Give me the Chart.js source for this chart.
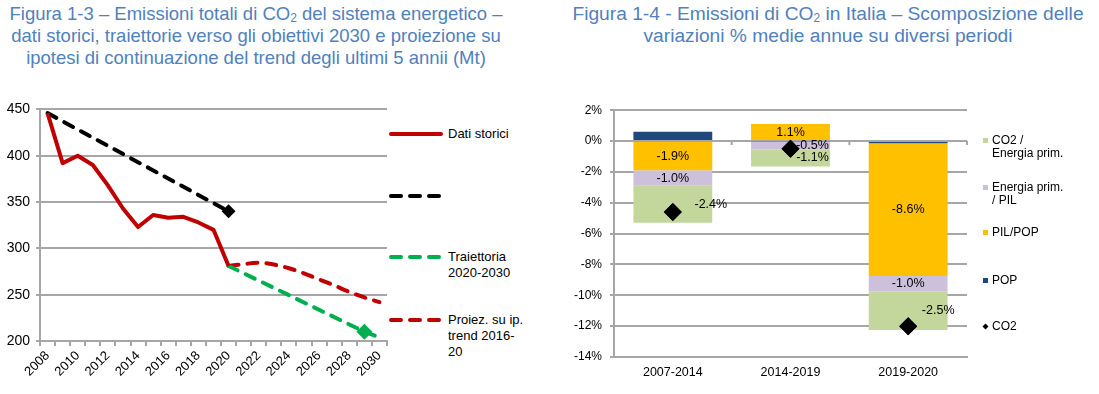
<!DOCTYPE html>
<html>
<head>
<meta charset="utf-8">
<script src="https://cdn.jsdelivr.net/npm/chart.js@4"></script>
<style>
  html, body { margin:0; padding:0; background:#fff; }
  body { width:1099px; height:394px; position:relative; overflow:hidden; font-family:"Liberation Sans", Arial, sans-serif; }
  .title { position:absolute; color:#4f81bd; font-family:"Liberation Sans Narrow","Arial Narrow","Liberation Sans",Arial,sans-serif; line-height:22px; text-align:center; white-space:nowrap; }
  .title sub { font-size:12px; vertical-align:-2px; line-height:0; }
  canvas { position:absolute; }
  .lg { position:absolute; font-size:13px; line-height:16px; color:#000; white-space:nowrap; }
  .lg2 { position:absolute; font-size:12px; line-height:13px; color:#000; white-space:nowrap; }
  .sw { position:absolute; width:5px; height:5px; }
</style>
</head>
<body>
<div class="title" style="left:0px; width:512px; top:3px; font-size:18.5px;">Figura 1-3 – Emissioni totali di CO<sub>2</sub> del sistema energetico –<br>dati storici, traiettorie verso gli obiettivi 2030 e proiezione su<br>ipotesi di continuazione del trend degli ultimi 5 annii (Mt)</div>
<div class="title" style="left:568px; width:520px; top:3px; font-size:19.2px;">Figura 1-4 - Emissioni di CO<sub>2</sub> in Italia – Scomposizione delle<br>variazioni % medie annue su diversi periodi</div>

<canvas id="c1" width="400" height="299" style="left:0px; top:95px;"></canvas>
<canvas id="c2" width="440" height="299" style="left:560px; top:95px;"></canvas>

<!-- legend left -->
<svg style="position:absolute; left:388px; top:120px;" width="60" height="210">
  <line x1="3" y1="14" x2="53" y2="14" stroke="#c00000" stroke-width="4" stroke-linecap="round"/>
  <line x1="3" y1="76" x2="53" y2="76" stroke="#000" stroke-width="4" stroke-linecap="round" stroke-dasharray="10 9"/>
  <line x1="3" y1="137" x2="53" y2="137" stroke="#00b050" stroke-width="4" stroke-linecap="round" stroke-dasharray="10 9"/>
  <line x1="3" y1="200" x2="53" y2="200" stroke="#c00000" stroke-width="4" stroke-linecap="round" stroke-dasharray="10 9"/>
</svg>
<div class="lg" style="left:448px; top:126px;">Dati storici</div>
<div class="lg" style="left:448px; top:249px;">Traiettoria<br>2020-2030</div>
<div class="lg" style="left:448px; top:312px;">Proiez. su ip.<br>trend 2016-<br>20</div>

<!-- legend right -->
<div class="sw" style="left:983px; top:138px; background:#c3d69b;"></div>
<div class="lg2" style="left:992px; top:134px;">CO2 /<br>Energia prim.</div>
<div class="sw" style="left:983px; top:185px; background:#ccc0da;"></div>
<div class="lg2" style="left:992px; top:181px;">Energia prim.<br>/ PIL</div>
<div class="sw" style="left:983px; top:230px; background:#ffc000;"></div>
<div class="lg2" style="left:992px; top:226px;">PIL/POP</div>
<div class="sw" style="left:983px; top:278px; background:#1f497d;"></div>
<div class="lg2" style="left:992px; top:274px;">POP</div>
<div class="sw" style="left:983px; top:324px; background:#000; transform:rotate(45deg) scale(0.85);"></div>
<div class="lg2" style="left:992px; top:320px;">CO2</div>

<script>
// ---------- Data: Figura 1-3 ----------
const years = ['2008','2009','2010','2011','2012','2013','2014','2015','2016','2017','2018','2019','2020',
               '2021','2022','2023','2024','2025','2026','2027','2028','2029','2030'];
const datiStorici = [446,392,400,390,368,343,323,336,333,334,328,320,281,
                     null,null,null,null,null,null,null,null,null,null];
const obiettivo2020 = [446,null,null,null,null,null,null,null,null,null,null,null,340,
                       null,null,null,null,null,null,null,null,null,null];
const traiettoria = [null,null,null,null,null,null,null,null,null,null,null,null,281,
                     null,null,null,null,null,null,null,null,210,204];
const proiezione = [null,null,null,null,null,null,null,null,null,null,null,null,281,
                    283,284.5,282.5,278.5,273,266.5,260,253,247,242];
const yTicks1 = [200,250,300,350,400,450];

// ---------- Data: Figura 1-4 ----------
const periodi = ['2007-2014','2014-2019','2019-2020'];
const pop = [0.6,-0.05,-0.15];
const pilPop = [-1.9,1.1,-8.6];
const energiaPil = [-1.0,-0.5,-1.0];
const co2Energia = [-2.4,-1.1,-2.5];
const co2 = [-4.6,-0.5,-12.0];
const yTicks2 = [2,0,-2,-4,-6,-8,-10,-12,-14];

const GRID = '#a6a6a6';
const FONT = '"Liberation Sans", Arial, sans-serif';
Chart.defaults.font.family = FONT;
Chart.defaults.color = '#000';

// ---------- Chart 1 ----------
new Chart(document.getElementById('c1'), {
  type: 'line',
  data: {
    labels: years,
    datasets: [
      { label:'Dati storici', data: datiStorici, borderColor:'#c00000', borderWidth:4, pointRadius:0, tension:0, borderJoinStyle:'round', order:1 },
      { label:'Obiettivo 2020', data: obiettivo2020, borderColor:'#000', borderWidth:4, borderDash:[10,9], borderCapStyle:'round', spanGaps:true,
        pointStyle:'rectRot', pointRadius: ctx => ctx.dataIndex === 12 ? 7 : 0, pointBackgroundColor:'#000', pointBorderWidth:0, order:2 },
      { label:'Traiettoria 2020-2030', data: traiettoria, borderColor:'#00b050', borderWidth:4, borderDash:[10,9], borderCapStyle:'round', spanGaps:true,
        pointStyle:'rectRot', pointRadius: ctx => ctx.dataIndex === 21 ? 8 : 0, pointBackgroundColor:'#00b050', pointBorderWidth:0, order:3 },
      { label:'Proiez. su ip. trend 2016-20', data: proiezione, borderColor:'#c00000', borderWidth:4, borderDash:[10,9], borderCapStyle:'round',
        tension:0.4, cubicInterpolationMode:'monotone', pointRadius:0, order:4 }
    ]
  },
  options: {
    responsive:false, animation:false, devicePixelRatio:1,
    layout:{ padding:{ top:14, right:13, left:0, bottom:0 } },
    plugins:{ legend:{display:false}, tooltip:{enabled:false} },
    scales:{
      x:{
        offset:true,
        grid:{ offset:true, drawOnChartArea:false, drawTicks:true, tickLength:5, color:GRID, lineWidth:2 },
        border:{ display:true, color:GRID, width:2 },
        ticks:{ autoSkip:false, maxRotation:45, minRotation:45, padding:2, font:{size:13},
                callback:(v,i)=> i%2===0 ? years[i] : '' },
        afterFit: s => { s.height = 53; }
      },
      y:{
        min:200, max:450,
        afterBuildTicks: s => { s.ticks = yTicks1.map(v=>({value:v})); },
        grid:{ color:GRID, lineWidth:2, tickLength:4, drawTicks:true },
        border:{ display:true, color:GRID, width:2 },
        ticks:{ padding:6, font:{size:14} },
        afterFit: s => { s.width = 40; }
      }
    }
  }
});

// ---------- Chart 2 ----------
const labelShift = { '3-0':38, '2-1':22, '3-1':22, '3-2':30 };
const barLabels = {
  id:'barLabels',
  afterDatasetsDraw(chart){
    const ctx = chart.ctx;
    ctx.save();
    ctx.font = '12.5px ' + FONT;
    ctx.fillStyle = '#000';
    ctx.textAlign = 'center';
    ctx.textBaseline = 'middle';
    chart.data.datasets.forEach((ds, di) => {
      if (ds.type === 'line' || ds.noLabel) return;
      const meta = chart.getDatasetMeta(di);
      meta.data.forEach((bar, i) => {
        const v = ds.data[i];
        const cy = (bar.y + bar.base)/2;
        const dx = labelShift[di+'-'+i] || 0;
        ctx.fillText(v.toFixed(1) + '%', bar.x + dx, cy);
      });
    });
    // small tick marks on the zero line at category boundaries
    const xs = chart.scales.x, ys = chart.scales.y;
    const y0 = ys.getPixelForValue(0);
    ctx.strokeStyle = GRID; ctx.lineWidth = 2;
    for (let k = 1; k <= periodi.length; k++) {
      const x = xs.left + (xs.right - xs.left) * k / periodi.length;
      ctx.beginPath(); ctx.moveTo(x, y0); ctx.lineTo(x, y0 + 4); ctx.stroke();
    }
    ctx.restore();
  }
};
const co2Front = {
  id:'co2Front',
  afterDraw(chart){
    const meta = chart.getDatasetMeta(4);
    meta.data.forEach(p => p.draw(chart.ctx));
  }
};

new Chart(document.getElementById('c2'), {
  type:'bar',
  data:{
    labels: periodi,
    datasets:[
      { label:'POP', data: pop, backgroundColor:'#1f497d', stack:'s', noLabel:true, order:2 },
      { label:'PIL/POP', data: pilPop, backgroundColor:'#ffc000', stack:'s', order:2 },
      { label:'Energia prim. / PIL', data: energiaPil, backgroundColor:'#ccc0da', stack:'s', order:2 },
      { label:'CO2 / Energia prim.', data: co2Energia, backgroundColor:'#c3d69b', stack:'s', order:2 },
      { type:'line', label:'CO2', data: co2, showLine:false, pointStyle:'rectRot', pointRadius:9,
        pointBackgroundColor:'#000', pointBorderWidth:0, borderColor:'#000', order:1 }
    ]
  },
  options:{
    responsive:false, animation:false, devicePixelRatio:1,
    layout:{ padding:{ top:14, right:33, left:0, bottom:0 } },
    datasets:{ bar:{ categoryPercentage:1, barPercentage:0.67 } },
    plugins:{ legend:{display:false}, tooltip:{enabled:false} },
    scales:{
      x:{
        stacked:true,
        grid:{ display:false, drawTicks:false },
        border:{ display:true, color:GRID, width:2 },
        ticks:{ padding:8, font:{size:12.5}, maxRotation:0 },
        afterFit: s => { s.height = 37; }
      },
      y:{
        stacked:true, min:-14, max:2,
        afterBuildTicks: s => { s.ticks = yTicks2.map(v=>({value:v})); },
        grid:{ color:GRID, lineWidth:2, tickLength:4, drawTicks:true },
        border:{ display:true, color:GRID, width:2 },
        ticks:{ padding:8, font:{size:12}, callback: v => v + '%' },
        afterFit: s => { s.width = 54; }
      }
    }
  },
  plugins:[barLabels, co2Front]
});
</script>
</body>
</html>
